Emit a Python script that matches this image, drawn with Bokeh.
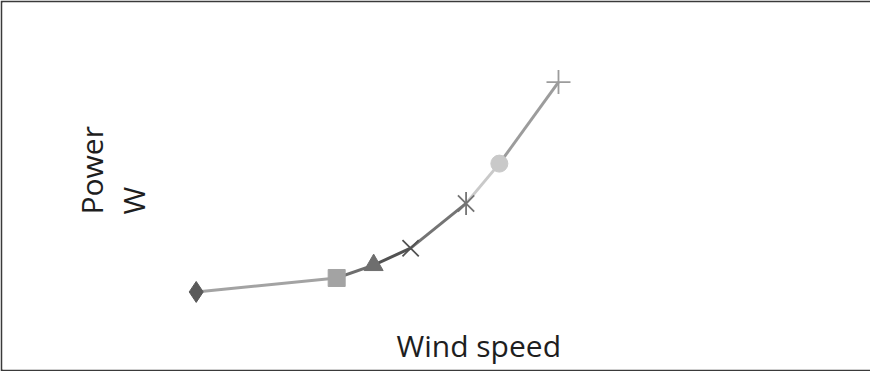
import math
from bokeh.plotting import figure
from bokeh.models import Range1d, ColumnDataSource
from bokeh.core.properties import value
from bokeh.embed import file_html
from bokeh.resources import INLINE

# ---- data ----
wind_speed = [2.0, 5.8, 6.8, 7.8, 9.3, 10.2, 11.8]
power_w = [40, 68, 94, 128, 218, 298, 462]
markers = ["diamond", "square", "triangle", "x", "x", "circle", "cross"]
point_colors = ["#5a5a5a", "#a3a3a3", "#6e6e6e", "#525252", "#747474", "#c9c9c9", "#9c9c9c"]
x_label = "Wind speed"
y_label_1 = "Power"
y_label_2 = "W"

W, H = 870, 371
B = 2  # border width (left/top/bottom)
X_MIN, X_MAX = -3.24, 20.24
Y_MIN, Y_MAX = -116.0, 622.0
FW, FH = W - B, H - 2 * B

def dx(px):  # page px -> data x
    return X_MIN + (px - 8 - B) / FW * (X_MAX - X_MIN)

def dy(py):  # page px (from top) -> data y
    return Y_MAX - (py - 8 - B) / FH * (Y_MAX - Y_MIN)

p = figure(width=W, height=H, output_backend="svg", toolbar_location=None,
           x_range=Range1d(X_MIN, X_MAX), y_range=Range1d(Y_MIN, Y_MAX),
           x_axis_location=None, y_axis_location=None,
           min_border_left=B, min_border_top=B, min_border_bottom=B, min_border_right=0,
           border_fill_color="#3a3a3a", background_fill_color="white",
           outline_line_color=None)
p.grid.visible = False

# segments, each coloured like the point it ends at
seg = ColumnDataSource(dict(x0=wind_speed[:-1], y0=power_w[:-1],
                            x1=wind_speed[1:], y1=power_w[1:],
                            c=point_colors[1:]))
p.segment("x0", "y0", "x1", "y1", source=seg, line_color="c", line_width=3)

sizes = {"diamond": 21, "square": 17, "triangle": 19, "x": 23, "circle": 17, "cross": 24}
for i, (xv, yv, m, c) in enumerate(zip(wind_speed, power_w, markers, point_colors)):
    if m in ("x", "cross"):
        p.scatter([xv], [yv], marker=m, size=sizes[m], line_color=c, line_width=1.8)
    else:
        p.scatter([xv], [yv], marker=m, size=sizes[m], fill_color=c, line_color=c)
    if i == 4:  # star marker: x with a vertical bar
        p.scatter([xv], [yv], marker="dash", angle=math.pi / 2, size=23,
                  line_color=c, line_width=1.8)

font = value("Open Sans")
p.text(x=[dx(404)], y=[dy(353)], text=[x_label], text_font=font,
       text_font_size="30px", text_color="#1e1e1e",
       text_align="left", text_baseline="alphabetic")
p.text(x=[dx(99)], y=[dy(222)], text=[y_label_1], text_font=font,
       text_font_size="30px", text_color="#1e1e1e", angle=math.pi / 2,
       text_align="left", text_baseline="alphabetic")
p.text(x=[dx(141)], y=[dy(222)], text=[y_label_2], text_font=font,
       text_font_size="30px", text_color="#1e1e1e", angle=math.pi / 2,
       text_align="left", text_baseline="alphabetic")

open("out.html", "w").write(file_html(p, INLINE))
